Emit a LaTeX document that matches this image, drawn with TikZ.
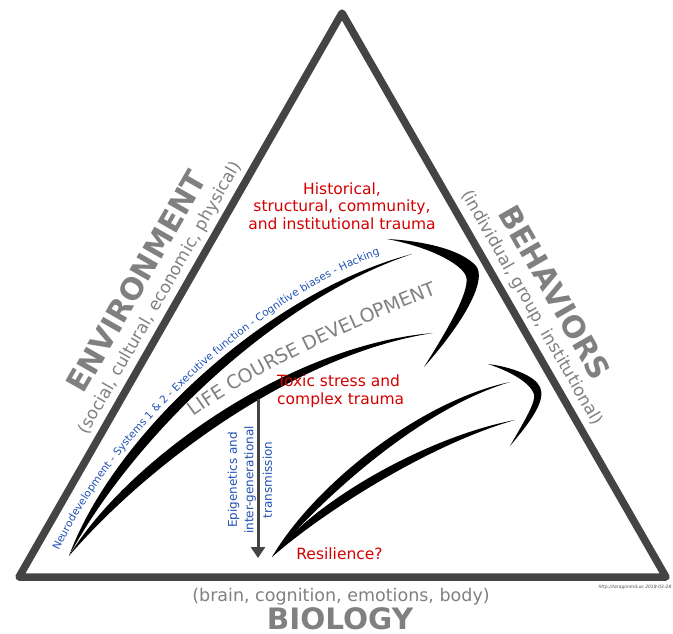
\documentclass[tikz,border=0pt]{standalone}
\usepackage{fontspec}
\setmainfont{DejaVu Sans}
\usetikzlibrary{calc,arrows.meta,decorations.text}

\definecolor{edgegray}{HTML}{444444}
\definecolor{labelgray}{HTML}{808080}
\definecolor{traumared}{HTML}{D40000}
\definecolor{pathblue}{HTML}{1F4FB4}

% Tapered stroke: start, two control points, end, half-width controls near start and end
\newcommand\taperedshaft[6]{%
  \fill (#1) .. controls ($(#2)!#5!90:(#1)$) and ($(#3)!#6!-90:(#4)$) .. (#4)
        .. controls ($(#3)!#6!90:(#4)$) and ($(#2)!#5!-90:(#1)$) .. (#1) -- cycle;}

\begin{document}
\begin{tikzpicture}[x=1pt,y=-1pt,
  edge/.style={draw=edgegray, line width=7.5pt, line join=round},
  biglabel/.style={text=labelgray, font=\bfseries\fontsize{30}{36}\selectfont, inner sep=0pt},
  sublabel/.style={text=labelgray, font=\fontsize{17}{20}\selectfont, inner sep=0pt},
  redlabel/.style={text=traumared, font=\fontsize{15.5}{17.5}\selectfont, inner sep=0pt},
  bluelabel/.style={text=pathblue, font=\fontsize{12}{16.5}\selectfont, inner sep=0pt},
  downarrow/.style={draw=edgegray, line width=3pt, -{Triangle[width=14pt,length=11pt]}}
]
\useasboundingbox (0,0) rectangle (673,633);

% the triangle
\coordinate (apex) at (342,13);
\coordinate (bl) at (19,577);
\coordinate (br) at (666,577);
\draw[edge] (apex) -- (br) -- (bl) -- cycle;

% side and base labels
\node[biglabel, rotate=60.2] (env) at (136.5,281.2) {ENVIRONMENT};
\node[sublabel, rotate=60.2] (envsub) at (160.2,298.2) {(social, cultural, economic, physical)};
\node[biglabel, rotate=-60.2] (beh) at (554.9,292.2) {BEHAVIORS};
\node[sublabel, rotate=-60.2] (behsub) at (531.6,307.9) {(individual, group, institutional)};
\node[biglabel, anchor=base, font=\bfseries\fontsize{29.5}{34}\selectfont] (bio) at (340,629.5) {BIOLOGY};
\node[sublabel, anchor=base, font=\fontsize{17.5}{20}\selectfont] (biosub) at (341,601) {(brain, cognition, emotions, body)};
\node[inner sep=0pt, font=\itshape\fontsize{4.5}{5}\selectfont, text=black!70] (credit) at (635,587) {http://taragonmd.us 2018-03-28};

% upper arrow: two shafts and a curved head
\taperedshaft{69,556}{121,440}{268,297}{412,254}{9pt}{5pt}
\taperedshaft{69,556}{135,465}{290,350}{433,333}{9pt}{5pt}
\fill (387,239) .. controls (425,241) and (462,250) .. (476,266)
      .. controls (486,278) and (470,315) .. (424,367)
      .. controls (455,318) and (470,288) .. (466,276)
      .. controls (460,262) and (425,246) .. (387,239) -- cycle;

% lower arrow: two shafts and a curved head
\taperedshaft{272,557}{320,490}{420,405}{510,382}{7.5pt}{4pt}
\taperedshaft{272,557}{320,505}{430,440}{515,420}{7.5pt}{4pt}
\fill (488,364) .. controls (512,367) and (535,376) .. (540,387)
      .. controls (546,400) and (532,420) .. (510,446)
      .. controls (525,420) and (536,402) .. (534,394)
      .. controls (530,383) and (512,372) .. (488,364) -- cycle;

% texts following the curves
\path[decorate, decoration={text along path, text color=pathblue,
  text={|\fontsize{10.5}{12}\selectfont|Neurodevelopment - Systems 1 {\&} 2 - Executive function - Cognitive biases - Hacking}}]
  (59,551) .. controls (112,435) and (265,287) .. (405,246);
\path[decorate, decoration={text along path, text color=labelgray,
  text={|\fontsize{19}{22}\selectfont|LIFE COURSE DEVELOPMENT}}]
  (194,417) .. controls (258,369) and (372,319) .. (447,290);

% red annotations
\node[redlabel, align=center] (hist) at (342,206) {Historical,\\structural, community,\\and institutional trauma};
\node[redlabel, align=left, anchor=base west] (toxic) at (277,404) {Toxic stress and\\complex trauma};
\node[redlabel, anchor=base] (resil) at (339.5,559) {Resilience?};

% inheritance arrow with its label
\node[bluelabel, rotate=90, align=center] (epi) at (250,480) {Epigenetics and\\inter-generational\\[2pt]transmission};
\coordinate (epitop) at (258,399);
\coordinate (epibot) at (258,558);
\draw[downarrow] (epitop) -- (epibot);
\end{tikzpicture}
\end{document}
